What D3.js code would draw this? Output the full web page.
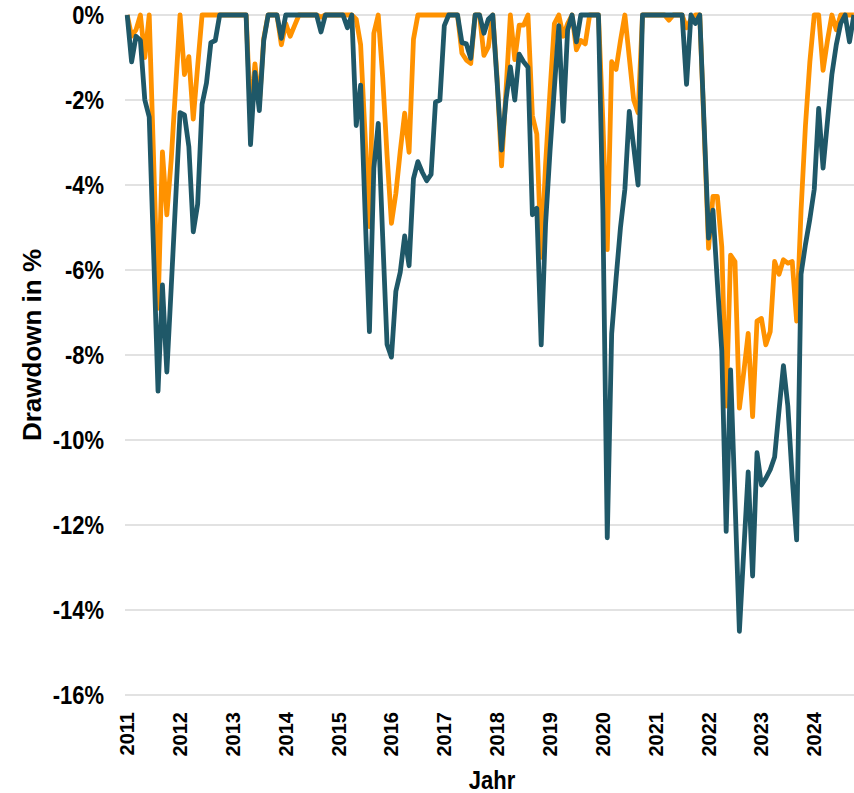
<!doctype html>
<html lang="de">
<head>
<meta charset="UTF-8">
<title>Drawdown</title>
<script src="https://d3js.org/d3.v7.min.js"></script>
<style>
  body { margin: 0; background: #fff; }
  svg text { font-family: "Liberation Sans", Arial, sans-serif; font-weight: bold; fill: #000; }
</style>
</head>
<body>
<div id="chart"></div>
<script>
// Jahresbeschriftung der x-Achse (eine Marke pro Januar)
const years = ["2011", "2012", "2013", "2014", "2015", "2016", "2017",
               "2018", "2019", "2020", "2021", "2022", "2023", "2024"];

// y-Achse in Prozent
const yTicks = [0, -2, -4, -6, -8, -10, -12, -14, -16];

// Monatswerte, eine Zeile pro Jahr (dunkle Linie)
const drawdownDark = [
  0, -1.1, -0.5, -0.6, -2.0, -2.4, -5.6, -8.85, -6.35, -8.4, -6.4, -4.35,
  -2.3, -2.35, -3.1, -5.1, -4.45, -2.1, -1.6, -0.65, -0.6, 0, 0, 0,
  0, 0, 0, 0, -3.05, -1.35, -2.25, -0.6, 0, 0, 0, -0.55,
  0, 0, 0, 0, 0, 0, 0, 0, -0.4, 0, 0, 0,
  0, 0, -0.3, 0, -2.6, -1.65, -4.6, -7.45, -3.6, -2.55, -5.2, -7.75,
  -8.05, -6.5, -6.05, -5.2, -5.9, -3.85, -3.45, -3.7, -3.9, -3.75, -2.05, -2.0,
  -0.25, 0, 0, 0, -0.65, -0.68, -1.02, 0, 0, -0.43, -0.1, 0,
  -1.6, -3.18, -2.0, -1.22, -2.0, -0.92, -1.1, -1.23, -4.7, -4.55, -7.76, -4.9,
  -3.2, -1.7, -0.25, -2.5, -0.35, 0, -0.63, 0, 0, 0, 0, 0,
  -4.6, -12.3, -7.5, -6.2, -5.0, -4.1, -2.27, -3.1, -4.0, 0, 0, 0,
  0, 0, 0, 0, 0, 0, 0, -1.63, 0, -0.2, 0, -2.6,
  -5.25, -4.59, -6.3, -7.9, -12.15, -8.35, -11.4, -14.5, -12.6, -10.75, -13.2, -10.3,
  -11.06, -10.9, -10.7, -10.4, -9.3, -8.25, -9.2, -10.9, -12.35, -6.1, -5.4, -4.8,
  -4.1, -2.2, -3.6, -2.5, -1.4, -0.7, -0.2, 0, -0.63, 0
];

// Monatswerte, eine Zeile pro Jahr (orange Linie)
const drawdownOrange = [
  0, -0.5, -0.35, 0, -1.0, 0, -3.4, -6.9, -3.22, -4.7, -3.4, -1.7,
  0, -1.4, -0.98, -2.45, -1.2, 0, 0, 0, 0, 0, 0, 0,
  0, 0, 0, 0, -2.4, -1.15, -2.1, -0.55, 0, 0, 0, -0.7,
  -0.2, -0.5, -0.25, 0, 0, 0, 0, 0, -0.05, 0, 0, 0,
  0, 0, 0, 0, -0.1, -0.7, -2.8, -4.98, -0.43, 0, -1.45, -3.3,
  -4.9, -4.2, -3.2, -2.31, -3.23, -0.57, 0, 0, 0, 0, 0, 0,
  0, 0, 0, 0, -0.9, -1.06, -1.14, 0, 0, -0.95, -0.75, 0,
  -1.5, -3.55, -1.8, 0, -1.05, -0.24, -0.24, 0, -2.37, -2.8, -5.7, -3.5,
  -1.8, -0.2, 0, -0.5, -0.2, 0, -0.82, -0.6, -0.68, 0, 0, 0,
  -2.5, -5.52, -1.1, -1.28, -0.6, 0, -1.0, -2.0, -2.3, 0, 0, 0,
  0, 0, 0, -0.12, 0, 0, 0, -0.3, -0.1, 0, 0, -2.7,
  -5.49, -4.27, -4.27, -5.45, -9.2, -5.65, -5.8, -9.25, -8.4, -7.49, -9.45, -7.2,
  -7.14, -7.76, -7.45, -5.8, -6.1, -5.76, -5.84, -5.8, -7.2, -4.6, -2.6, -1.1,
  0, 0, -1.3, -0.6, 0, -0.35, 0, 0, 0, 0
];

const width = 854, height = 793;
const plotLeft = 125, plotTop = 15, plotBottom = 695;

const svg = d3.select("#chart").append("svg")
  .attr("width", width)
  .attr("height", height);

// Monatsindex -> x
const x = d3.scaleLinear()
  .domain([0, drawdownDark.length - 1])
  .range([127.2, 853.9]);

const y = d3.scaleLinear()
  .domain([-16, 0])
  .range([plotBottom, plotTop]);

// Gitterlinien
svg.append("g")
  .selectAll("line")
  .data(yTicks)
  .join("line")
  .attr("x1", plotLeft)
  .attr("x2", width)
  .attr("y1", d => y(d))
  .attr("y2", d => y(d))
  .attr("stroke", "#d9d9d9")
  .attr("stroke-width", 1.5);

// y-Beschriftung (leicht hochgezogen wie im Original)
svg.append("g")
  .selectAll("text")
  .data(yTicks)
  .join("text")
  .attr("transform", d => "translate(104," + y(d) + ") scale(1,1.15)")
  .attr("dy", "0.35em")
  .attr("text-anchor", "end")
  .style("font-size", "22px")
  .text(d => d + "%");

// x-Beschriftung (gedreht)
svg.append("g")
  .selectAll("text")
  .data(years)
  .join("text")
  .attr("transform", (d, i) => "translate(" + x(i * 12) + ",712) rotate(-90)")
  .attr("dy", "0.35em")
  .attr("text-anchor", "end")
  .style("font-size", "20px")
  .text(d => d);

// Achsentitel
svg.append("text")
  .attr("transform", "translate(32,345) rotate(-90)")
  .attr("dy", "0.35em")
  .attr("text-anchor", "middle")
  .style("font-size", "26px")
  .text("Drawdown in %");

svg.append("text")
  .attr("transform", "translate(492,789) scale(1,1.2)")
  .attr("text-anchor", "middle")
  .style("font-size", "22px")
  .text("Jahr");

const line = d3.line()
  .x((d, i) => x(i))
  .y(d => y(d));

svg.append("path")
  .datum(drawdownOrange)
  .attr("d", line)
  .attr("fill", "none")
  .attr("stroke", "#ff9200")
  .attr("stroke-width", 4.8)
  .attr("stroke-linejoin", "round");

svg.append("path")
  .datum(drawdownDark)
  .attr("d", line)
  .attr("fill", "none")
  .attr("stroke", "#1f5868")
  .attr("stroke-width", 4.8)
  .attr("stroke-linejoin", "round");
</script>
</body>
</html>
